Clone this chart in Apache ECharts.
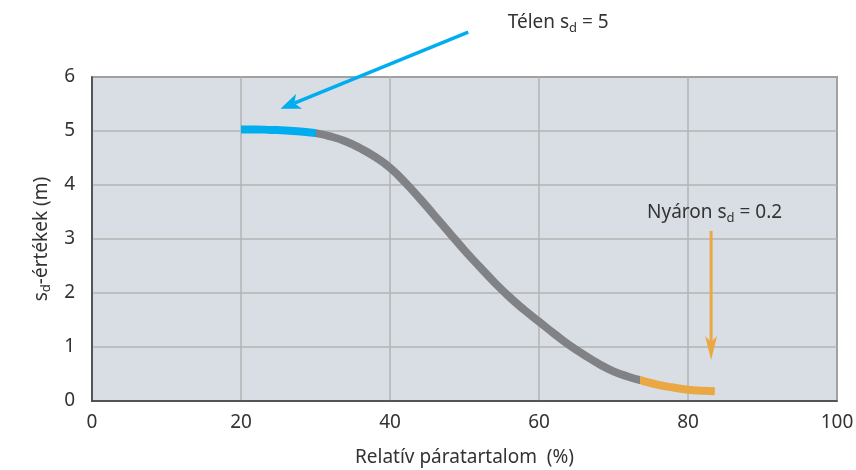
<!DOCTYPE html>
<html>
<head>
<meta charset="utf-8">
<script src="https://cdn.jsdelivr.net/npm/echarts@6/dist/echarts.min.js"></script>
<style>
html,body{margin:0;padding:0;background:#fff;}
#c{width:856px;height:470px;}
</style>
</head>
<body>
<div id="c"></div>
<script>
// ---- data ----
const humidity = [20, 22, 24, 26, 28, 30, 32, 34, 36, 38, 40, 42, 44, 46, 48, 50, 52, 54, 56, 58, 60, 62, 64, 66, 68, 70, 72, 74, 76, 78, 80, 82, 83.6];
const sdValues = [5.03, 5.03, 5.02, 5.01, 4.99, 4.96, 4.90, 4.81, 4.68, 4.52, 4.32, 4.05, 3.75, 3.43, 3.11, 2.79, 2.49, 2.20, 1.93, 1.69, 1.47, 1.25, 1.04, 0.86, 0.69, 0.55, 0.45, 0.37, 0.30, 0.25, 0.21, 0.19, 0.18];
const colorBreaks = [30, 73.5];
const segmentColors = ['#00aeef', '#808285', '#e9a843'];
const xTicks = [0, 20, 40, 60, 80, 100];
const yTicks = [0, 1, 2, 3, 4, 5, 6];
// annotation arrows (data units): [fromX, fromY, toX, toY]
const winterArrow = [50.5, 6.83, 25.3, 5.41];
const summerArrow = [83.1, 3.15, 83.1, 0.76];
// annotation labels: [x, y]
const winterLabelPos = [55.8, 7.0];
const summerLabelPos = [74.5, 3.48];

const chart = echarts.init(document.getElementById('c'));
const FONT = 'Noto Sans';
const TXT = '#333333';
const FS = 19;
const SUBFS = 13;

const option = {
  animation: false,
  backgroundColor: '#ffffff',
  grid: {
    left: 92, right: 19, top: 77, bottom: 69,
    outerBoundsMode: 'none', containLabel: false,
    show: true, backgroundColor: '#d9dee5',
    borderColor: '#3c3c3c', borderWidth: 1.5
  },
  xAxis: {
    type: 'value', min: xTicks[0], max: xTicks[xTicks.length - 1], interval: 20,
    name: 'Relatív páratartalom  (%)', nameLocation: 'middle', nameGap: 47,
    nameTextStyle: { fontFamily: FONT, fontSize: FS, color: TXT },
    axisLine: { show: true, lineStyle: { color: '#3c3c3c', width: 1.5 } },
    axisTick: { show: false },
    axisLabel: { fontFamily: FONT, fontSize: FS, color: TXT, margin: 12 },
    splitLine: { show: true, lineStyle: { color: '#b3b3b3', width: 1.5 } }
  },
  yAxis: {
    type: 'value', min: yTicks[0], max: yTicks[yTicks.length - 1], interval: 1,
    name: '{n|s}{sub|d}{n|-értékek (m)}', nameLocation: 'middle', nameGap: 38,
    nameTextStyle: {
      fontFamily: FONT, fontSize: FS, color: TXT,
      rich: {
        n: { fontFamily: FONT, fontSize: FS, color: TXT, lineHeight: 24 },
        sub: { fontFamily: FONT, fontSize: SUBFS, color: TXT, lineHeight: 12, verticalAlign: 'bottom' }
      }
    },
    axisLine: { show: true, lineStyle: { color: '#3c3c3c', width: 1.5 } },
    axisTick: { show: false },
    axisLabel: { fontFamily: FONT, fontSize: FS, color: TXT, margin: 17 },
    splitLine: { show: true, lineStyle: { color: '#b3b3b3', width: 1.5 } }
  },
  visualMap: {
    type: 'piecewise', show: false, dimension: 0, seriesIndex: 0,
    pieces: [
      { lte: colorBreaks[0], color: segmentColors[0] },
      { gt: colorBreaks[0], lte: colorBreaks[1], color: segmentColors[1] },
      { gt: colorBreaks[1], color: segmentColors[2] }
    ]
  },
  series: [{
    type: 'line',
    data: humidity.map((x, i) => [x, sdValues[i]]),
    smooth: true,
    showSymbol: false,
    lineStyle: { width: 8, cap: 'butt' }
  }]
};
chart.setOption(option);

function arrowGraphics(a, color, lw, headLen, headHalf) {
  const p0 = chart.convertToPixel({ gridIndex: 0 }, [a[0], a[1]]);
  const p1 = chart.convertToPixel({ gridIndex: 0 }, [a[2], a[3]]);
  const dx = p1[0] - p0[0], dy = p1[1] - p0[1];
  const L = Math.sqrt(dx * dx + dy * dy);
  const ux = dx / L, uy = dy / L;
  const nx = -uy, ny = ux;
  const bx = p1[0] - ux * headLen, by = p1[1] - uy * headLen;
  const mx = p1[0] - ux * headLen * 0.75, my = p1[1] - uy * headLen * 0.75;
  return [
    { type: 'line', shape: { x1: p0[0], y1: p0[1], x2: mx, y2: my }, style: { stroke: color, lineWidth: lw }, z: 100 },
    { type: 'polygon', shape: { points: [[p1[0], p1[1]], [bx + nx * headHalf, by + ny * headHalf], [mx, my], [bx - nx * headHalf, by - ny * headHalf]] }, style: { fill: color }, z: 100 }
  ];
}

function labelGraphic(pos, main, sub, rest) {
  const p = chart.convertToPixel({ gridIndex: 0 }, pos);
  return {
    type: 'text', x: p[0], y: p[1], z: 101,
    style: {
      text: '{n|' + main + '}{sub|' + sub + '}{n|' + rest + '}',
      verticalAlign: 'middle', align: 'left',
      rich: {
        n: { fontFamily: FONT, fontSize: FS, fill: TXT, lineHeight: 24 },
        sub: { fontFamily: FONT, fontSize: SUBFS, fill: TXT, lineHeight: 12, verticalAlign: 'bottom' }
      }
    }
  };
}

chart.setOption({
  graphic: [].concat(
    arrowGraphics(winterArrow, '#00aeef', 3.5, 20, 8),
    arrowGraphics(summerArrow, '#e9a843', 3, 24, 6),
    [labelGraphic(winterLabelPos, 'Télen s', 'd', ' = 5'),
     labelGraphic(summerLabelPos, 'Nyáron s', 'd', ' = 0.2')]
  )
});
</script>
</body>
</html>
